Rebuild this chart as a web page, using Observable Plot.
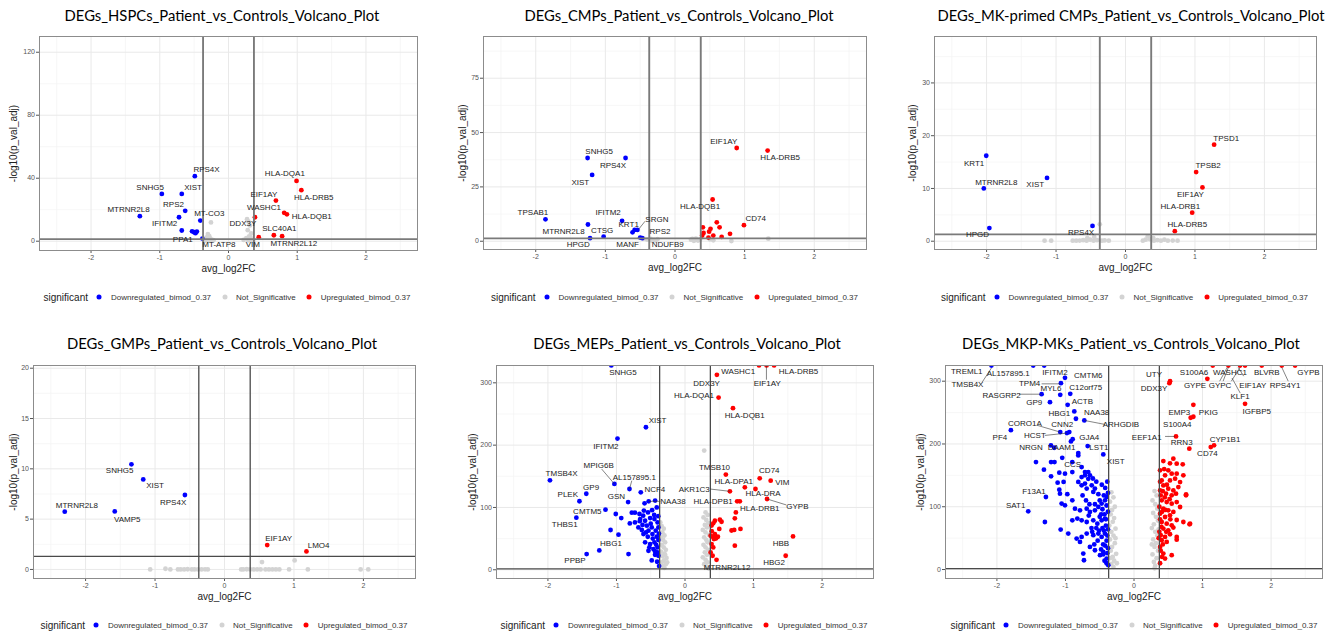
<!DOCTYPE html>
<html><head><meta charset="utf-8">
<script src="https://cdn.jsdelivr.net/npm/d3@7"></script>
<script src="https://cdn.jsdelivr.net/npm/@observablehq/plot@0.6"></script>
<style>
body{margin:0;background:#fff;width:1343px;height:637px;position:relative;overflow:hidden;font-family:"Liberation Sans",Arial,sans-serif}
.title{position:absolute;font-family:Lato,"Open Sans",sans-serif;font-size:14.8px;color:#000;white-space:nowrap;transform:translate(-50%,-50%)}
.panel{position:absolute}
.legend{position:absolute;display:flex;align-items:center;white-space:nowrap;transform:translate(-50%,-50%);color:#333;font-size:8px;font-family:"Liberation Sans",Arial,sans-serif}
.legend .lt{font-size:10px;color:#222}
.legend .dot{display:inline-block;width:5px;height:5px;border-radius:50%;margin:0 9px 0 11px}
.legend .dot.first{margin-left:9px}
</style></head><body>
<script>
// ---------- shared categories / thresholds ----------
const categories = ["Downregulated_bimod_0.37","Not_Significative","Upregulated_bimod_0.37"];
const categoryColors = ["#0000ff","#d3d3d3","#ff0000"];
const legendTitle = "significant";
const xAxisTitle = "avg_log2FC";
const yAxisTitle = "-log10(p_val_adj)";
const fcThresholds = [-0.37, 0.37];
const padjThreshold = [1.3];
const xTicks = [-2,-1,0,1,2];
const xMinor = [-2.5,-1.5,-0.5,0.5,1.5,2.5];

// ---------- Panel 1: HSPCs ----------
const hspcTitle = "DEGs_HSPCs_Patient_vs_Controls_Volcano_Plot";
const hspcDown = [[-0.49,41.3],[-0.97,30],[-0.68,30],[-0.63,19.3],[-1.29,15.9],[-0.72,15.2],[-0.41,13.1],[-0.68,6.8],[-0.53,6.3],[-0.50,5.7],[-0.46,6.1],[-0.48,5.1],[-0.38,1.7]];
const hspcUp = [[0.99,38.3],[1.06,32.4],[0.69,25.8],[0.385,15.2],[0.81,18],[0.85,17.1],[0.66,3.8],[0.78,3.2],[0.44,2.5]];
const hspcNS = [[-0.255,11.9],[-0.30,4.5],[-0.28,3.2],[-0.32,2.4],[-0.26,1.5],[-0.34,0.8],[-0.30,0.4],[-0.22,0.6],[-0.27,0.2],[-0.35,0.1],[0.27,14],[0.29,12.5],[0.31,10],[0.28,7],[0.33,5],[0.30,3],[0.26,2],[0.34,1],[0.29,0.5],[0.36,0.2],[0.22,0.8],[0.32,2.6]];
const hspcLabels = [["RPS4X",-0.32,45.6],["SNHG5",-1.14,34.3],["XIST",-0.515,34.3],["RPS2",-0.80,23.3],["MTRNR2L8",-1.455,19.9],["IFITM2",-0.93,11],["MT-CO3",-0.28,17.4],["PPA1",-0.665,1.06],["MT-ATP8",-0.14,-2.3],["DDX3Y",0.21,11],["VIM",0.355,-2.3],["HLA-DQA1",0.82,42.8],["HLA-DRB5",1.24,28],["EIF1AY",0.515,30],["WASHC1",0.515,21.6],["HLA-DQB1",1.21,15.7],["SLC40A1",0.74,7.8],["MTRNR2L12",0.95,-1.3]];
const hspcLinks = [];
const hspcYTicks = [0,40,80,120];
const hspcYMinor = [20,60,100];

// ---------- Panel 2: CMPs ----------
const cmpTitle = "DEGs_CMPs_Patient_vs_Controls_Volcano_Plot";
const cmpDown = [[-1.255,38.3],[-0.71,38.3],[-1.19,30.5],[-1.86,10.1],[-0.76,9.4],[-1.25,7.7],[-0.61,4.1],[-0.58,5.2],[-0.54,5.2],[-1.025,2.1],[-1.22,1.4],[-0.50,1.7],[-0.47,1.4]];
const cmpUp = [[0.886,42.9],[1.33,41.7],[0.54,19.2],[0.99,7.4],[0.60,8.7],[0.64,6.4],[0.40,6.4],[0.51,5.7],[0.41,3.8],[0.49,4.4],[0.39,2.6],[0.55,2.6],[0.67,2],[0.79,3.4],[0.48,1.7]];
const cmpNS = [[-0.45,1.2],[-0.40,0.8],[-0.35,1.1],[-0.30,0.6],[-0.25,1.0],[-0.33,0.2],[-0.28,0.3],[0.25,1.1],[0.28,0.5],[0.30,1.2],[0.33,0.3],[0.36,0.8],[0.27,0.2],[0.23,0.7],[0.50,0.9],[0.55,0.4],[0.81,0.1],[1.34,1.2]];
const cmpLabels = [["SNHG5",-1.09,41.3],["RPS4X",-0.89,35.1],["XIST",-1.36,27.1],["TPSAB1",-2.04,13.2],["IFITM2",-0.96,13.2],["SRGN",-0.26,10],["KRT1",-0.665,7.8],["MTRNR2L8",-1.60,4.6],["CTSG",-1.045,5.1],["RPS2",-0.215,4.4],["HPGD",-1.39,-1.7],["MANF",-0.68,-1.7],["NDUFB9",-0.105,-1.7],["EIF1AY",0.70,45.9],["HLA-DRB5",1.51,38.5],["HLA-DQB1",0.36,16],["CD74",1.16,10.3]];
const cmpLinks = [[-0.52,5.6,-0.43,9.2]];
const cmpYTicks = [0,25,50,75];
const cmpYMinor = [12.5,37.5,62.5,87.5];

// ---------- Panel 3: MK-primed CMPs ----------
const mkcmpTitle = "DEGs_MK-primed CMPs_Patient_vs_Controls_Volcano_Plot";
const mkcmpDown = [[-2.005,16.2],[-2.04,10],[-1.13,12],[-1.96,2.5],[-0.475,2.9]];
const mkcmpUp = [[1.276,18.3],[1.017,13.1],[1.108,10.2],[0.96,5.4],[0.71,1.9]];
const mkcmpNS = [[-0.37,3.2],[-1.165,0.1],[-1.07,0.1],[-0.76,0.1],[-0.71,0.1],[-0.66,0.12],[-0.61,0.2],[-0.56,0.1],[-0.51,0.3],[-0.46,0.1],[-0.41,0.2],[-0.34,0.1],[-0.30,0.15],[-0.24,0.1],[-0.55,0.6],[-0.45,0.8],[0.25,0.1],[0.29,0.3],[0.32,0.9],[0.35,0.4],[0.41,0.1],[0.46,0.2],[0.51,0.1],[0.56,0.3],[0.61,0.1],[0.68,0.12],[0.75,0.1],[0.40,0.6]];
const mkcmpLabels = [["KRT1",-2.18,14.8],["MTRNR2L8",-1.86,11.2],["XIST",-1.30,10.7],["HPGD",-2.13,1.2],["RPS4X",-0.64,1.6],["TPSD1",1.45,19.5],["TPSB2",1.19,14.4],["EIF1AY",0.935,8.8],["HLA-DRB1",0.79,6.6],["HLA-DRB5",0.89,3.2]];
const mkcmpLinks = [];
const mkcmpYTicks = [0,10,20,30];
const mkcmpYMinor = [5,15,25,35];

// ---------- Panel 4: GMPs ----------
const gmpTitle = "DEGs_GMPs_Patient_vs_Controls_Volcano_Plot";
const gmpDown = [[-1.34,10.45],[-1.17,8.95],[-0.57,7.4],[-2.30,5.74],[-1.58,5.77]];
const gmpUp = [[0.615,2.42],[1.18,1.79]];
const gmpNS = [[0.54,0.73],[1.01,0.9],[-1.07,0],[-0.85,0.07],[-0.78,0],[-0.67,0],[-0.63,0],[-0.58,0],[-0.53,0.02],[-0.47,0],[-0.43,0],[-0.38,0],[-0.33,0],[-0.28,0.01],[-0.24,0],[0.24,0],[0.27,0],[0.32,0.02],[0.37,0],[0.42,0],[0.47,0],[0.52,0],[0.59,0],[0.64,0],[0.69,0],[0.74,0],[0.79,0],[0.93,0],[1.2,0],[1.96,0],[2.07,0]];
const gmpLabels = [["SNHG5",-1.51,9.8],["XIST",-1.0,8.3],["RPS4X",-0.74,6.7],["MTRNR2L8",-2.125,6.4],["VAMP5",-1.40,5.0],["EIF1AY",0.78,3.05],["LMO4",1.355,2.35]];
const gmpLinks = [];
const gmpYTicks = [0,5,10,15,20];
const gmpYMinor = [2.5,7.5,12.5,17.5];

// ---------- Panel 5: MEPs ----------
const mepTitle = "DEGs_MEPs_Patient_vs_Controls_Volcano_Plot";
const mepDown = [[-1.075,328],[-0.57,228.7],[-0.985,210.5],[-1.97,143.6],[-1.03,137.7],[-0.81,129.6],[-1.44,122],[-1.54,110],[-0.645,124.3],[-0.83,108.7],[-0.53,109.8],[-1.16,96.4],[-1.585,83.6],[-1.25,31],[-1.435,25.2],
 [-0.59,106.6],[-0.436,111],[-1.01,89.5],[-0.93,83],[-0.776,91.6],[-0.73,91.6],[-0.664,89.5],[-0.61,86.8],[-0.54,92],[-0.48,95.7],[-0.412,100],[-0.805,74.4],[-0.73,76],[-0.654,81.3],[-0.582,78.7],[-0.509,83],[-0.446,81.3],[-0.40,76],
 [-1.086,63.8],[-0.97,56.3],[-0.68,68],[-0.63,63.8],[-0.557,70.7],[-0.533,62.7],[-0.485,68],[-0.427,62.7],[-0.388,68],[-0.606,57.3],[-0.543,53],[-0.475,57.3],[-0.412,53],[-0.388,47.6],[-0.582,44],[-0.509,41.3],[-0.446,44],
 [-0.533,30.5],[-0.461,33.2],[-0.40,35.9],[-0.437,24.1],[-0.388,22.5],[-0.485,15],[-0.407,12.9],[-0.378,6],[-0.824,25.2],[-0.62,72],[-0.50,74],[-0.45,88],[-0.39,86],[-0.57,60],[-0.47,50],[-0.42,40],[-0.52,36],[-0.40,28],[-0.66,78],[-0.60,95],[-0.38,58],[-0.44,30]];
const mepUp = [[0.465,312.9],[0.49,276.4],[0.70,259.3],[1.08,328],[1.19,328],[1.30,328],[0.596,152.7],[1.09,146.8],[1.25,143],[0.873,132.3],[1.028,129.6],[0.655,125.9],[1.197,113.6],[0.761,109.8],[0.80,109.8],[0.742,92.1],[0.727,82.5],
 [0.509,80.4],[0.533,77.1],[0.436,78.7],[0.412,74.5],[0.388,71],[0.50,65.6],[0.809,65.6],[0.679,63],[0.718,64],[0.436,57.3],[0.46,51.9],[0.422,49.3],[0.403,53],[0.374,54.6],[1.576,53.5],[0.727,38.6],[0.388,41.3],[0.412,35.9],[0.374,27.8],[0.403,22.5],[0.46,16],[1.469,22.5],[0.45,50],[0.48,53],[0.39,62]];
const mepNS = [[-0.36,76],[-0.34,70],[-0.31,66],[-0.33,60],[-0.30,55],[-0.35,52],[-0.32,48],[-0.29,44],[-0.34,40],[-0.31,36],[-0.28,32],[-0.35,29],[-0.30,26],[-0.33,22],[-0.27,19],[-0.31,15],[-0.34,12],[-0.28,9],[-0.32,6],[-0.30,3],[-0.26,12],[-0.29,24],
 [0.28,191.3],[0.30,92],[0.33,88],[0.27,84],[0.31,80],[0.34,75],[0.29,72],[0.32,68],[0.26,64],[0.30,60],[0.35,56],[0.28,52],[0.31,48],[0.33,44],[0.27,40],[0.30,36],[0.34,32],[0.29,28],[0.32,24],[0.26,20],[0.30,16],[0.33,12],[0.28,9],[0.31,5],[0.35,2]];
const mepLabels = [["SNHG5",-0.905,316.6],["XIST",-0.40,239.5],["IFITM2",-1.155,198.7],["MPIG6B",-1.26,167.7],["TMSB4X",-1.80,154.3],["AL157895.1",-0.74,148.4],["GP9",-1.37,132.3],["PLEK",-1.71,121],["GSN",-1.0,118.4],["NCF4",-0.44,129.6],["NAA38",-0.175,109.8],["CMTM5",-1.425,93.7],["THBS1",-1.755,72.3],["HBG1",-1.08,42.3],["PPBP",-1.605,15],
 ["WASHC1",0.775,318.2],["HLA-DRB5",1.655,318.2],["DDX3Y",0.315,298.4],["EIF1AY",1.20,298.4],["HLA-DQA1",0.13,279.1],["HLA-DQB1",0.87,248],["TMSB10",0.43,163.9],["CD74",1.23,160.2],["HLA-DPA1",0.71,141.4],["VIM",1.42,140.9],["AKR1C3",0.135,129.6],["HLA-DRA",1.14,122.1],["HLA-DPB1",0.41,109.8],["GYPB",1.64,102.3],["HLA-DRB1",1.09,98.6],["HBB",1.40,42.3],["HBG2",1.30,11.2],["MTRNR2L12",0.615,4.3]];
const mepLinks = [[-1.217,161.8,-1.03,137.7],[-0.776,143,-0.81,129.6],[-0.53,109.8,-0.36,109.8],[1.188,328,1.188,305],[0.364,129.6,0.655,125.9],[1.479,104,1.197,113.6]];
const mepYTicks = [0,100,200,300];
const mepYMinor = [50,150,250];

// ---------- Panel 6: MKP-MKs ----------
const mkpTitle = "DEGs_MKP-MKs_Patient_vs_Controls_Volcano_Plot";
const mkpDown = [[-2.08,325],[-1.47,325],[-1.31,325],[-1.007,305.4],[-1.066,296.8],[-1.348,279.3],[-1.076,278.3],[-0.93,279.8],[-1.226,266.6],[-0.968,262.4],[-0.871,251.8],[-0.847,240.2],[-0.725,237.5],[-1.796,222],[-1.076,218.9],[-0.978,217.3],[-0.944,218.9],[-0.895,207.7],[-1.212,197.7],[-1.163,194],[-0.676,196.6],[-0.92,204],
 [-0.813,185.5],[-0.813,181.8],[-0.448,183.4],[-1.047,178],[-1.43,171.2],[-1.21,171.2],[-1.16,171.2],[-0.90,171.2],[-0.764,163.2],[-0.715,155.3],[-0.667,155.3],[-0.715,150],[-0.764,147.3],[-0.643,150],[-0.667,144.4],[-1.314,159],[-1.09,154.3],[-1.007,152.7],[-0.90,155.3],[-1.21,148.4],[-1.114,138.4],[-1.027,139.5],
 [-0.813,139.5],[-0.764,134.2],[-0.715,136.9],[-0.69,128.9],[-0.617,134.2],[-0.594,123.6],[-0.57,128.9],[-1.09,127.2],[-1.08,120.9],[-0.973,120],[-0.90,110.2],[-1.285,115.5],[-1.056,105],[-1.007,102.3],[-0.861,97],[-0.788,94.3],[-0.69,97],[-0.643,91.7],[-0.57,94.3],[-0.52,99.7],[-0.472,105],[-0.423,110.2],[-0.399,115.5],
 [-1.543,92.7],[-0.90,78.4],[-0.827,81.1],[-0.764,78.4],[-0.69,75.7],[-0.594,78.4],[-0.535,73.1],[-0.472,78.4],[-0.423,81.1],[-1.3,75.7],[-1.07,63.6],[-0.959,57.3],[-0.837,49.3],[-0.764,52],[-0.788,44],[-0.69,57.3],[-0.594,54.7],[-0.52,57.3],[-0.472,52],[-0.423,57.3],[-0.74,25.4],[-0.73,14.8],
 [-0.643,36],[-0.57,30.7],[-0.496,22.8],[-0.448,28],[-0.399,17.5],[-0.375,6.9],[-0.39,140],[-0.42,130],[-0.38,122],[-0.44,118],[-0.40,102],[-0.38,92],[-0.43,88],[-0.41,70],[-0.38,64],[-0.44,62],[-0.40,46],[-0.42,38],[-0.38,34],[-0.45,40],[-0.39,26],[-0.43,14],[-0.40,10],[-0.46,66],[-0.48,88],[-0.50,110],[-0.52,120],[-0.47,135],[-0.55,140],[-0.60,145],[-0.50,84],[-0.55,66],[-0.58,40],[-0.62,66],[-0.65,104],[-0.70,110],[-0.75,118],[-0.66,86],[-0.61,60],[-0.53,46],[-0.48,32],[-0.45,24],[-0.51,62],[-0.57,104],[-0.46,96],[-0.41,80],[-0.39,54]];
const mkpUp = [[1.149,325],[1.377,325],[1.547,325],[1.864,325],[2.156,325],[2.35,325],[1.62,325],[0.526,300],[0.516,296.8],[1.07,303.8],[0.866,262.4],[0.827,241.8],[0.866,243.4],[1.62,264],[0.613,212],[0.807,192.5],[1.12,195.1],[1.168,197.8],
 [0.428,172.8],[0.574,176.5],[0.623,168.6],[0.711,167.6],[0.525,169.1],[0.38,158],[0.50,158],[0.55,152.7],[0.623,152.7],[0.72,150],[0.453,150],[0.404,142],[0.525,142],[0.60,144.7],[0.672,139.3],[0.428,134],[0.38,126],[0.50,128.8],[0.574,126],[0.647,131.4],[0.467,120.9],[0.55,118.2],[0.613,120.9],[0.759,118.2],
 [0.404,110.2],[0.477,107.5],[0.55,104.9],[0.623,107.5],[0.672,99.6],[0.428,97],[0.50,94.3],[0.574,91.7],[0.38,89],[0.453,83.7],[0.525,86.3],[0.404,75.7],[0.477,73.1],[0.55,70.4],[0.428,65.2],[0.50,62.5],[0.574,66.8],[0.72,75.7],[0.818,73.1],[0.623,78.9],
 [0.39,54.6],[0.453,52],[0.525,56.2],[0.623,52],[0.404,46.6],[0.477,44],[0.38,36],[0.428,25.4],[0.55,22.8],[0.453,17.5],[0.623,47.6],[0.38,140],[0.39,118],[0.37,100],[0.41,92],[0.38,80],[0.40,68],[0.37,60],[0.42,40],[0.39,30],[0.38,10],[0.42,125],[0.44,160],[0.36,50],[0.41,20],[0.45,115],[0.46,95],[0.48,135],[0.52,112],[0.47,60],[0.53,80],[0.76,119.8],[0.81,72]];
const mkpNS = [[-0.33,123],[-0.30,115],[-0.35,108],[-0.28,100],[-0.32,95],[-0.34,88],[-0.29,82],[-0.31,76],[-0.36,70],[-0.27,65],[-0.33,60],[-0.30,54],[-0.35,48],[-0.28,42],[-0.32,36],[-0.34,30],[-0.26,25],[-0.31,20],[-0.29,14],[-0.33,9],[-0.30,4],[-0.27,50],[-0.35,18],[-0.25,10],
 [0.30,125],[0.33,118],[0.27,110],[0.31,104],[0.34,97],[0.28,90],[0.32,84],[0.35,78],[0.29,72],[0.26,66],[0.31,60],[0.34,54],[0.28,48],[0.32,42],[0.30,36],[0.35,30],[0.27,24],[0.33,18],[0.29,12],[0.31,6],[0.26,40],[0.36,64],[0.30,2]];
const mkpLabels = [["TREML1",-2.44,315.4],["TMSB4X",-2.43,294.2],["AL157895.1",-1.835,311.8],["IFITM2",-1.153,314.3],["CMTM6",-0.667,309],["TPM4",-1.523,295.8],["MYL6",-1.212,288.9],["C12orf75",-0.705,289.4],["RASGRP2",-1.932,277.2],["GP9",-1.455,265.6],["ACTB",-0.754,267.7],["HBG1",-1.09,249.1],["NAA38",-0.545,249.6],["ARHGDIB",-0.19,231.1],["CORO1A",-1.591,232.7],["CNN2",-1.047,230.6],["PF4",-1.956,210],["HCST",-1.445,213.6],["GJA4",-0.652,211],["NRGN",-1.504,194],["DAAM1",-1.056,195],["LST1",-0.512,194],["XIST",-0.267,171.8],["CCS",-0.895,167.5],["F13A1",-1.46,125],["SAT1",-1.727,101.8],
 ["UTY",0.292,310.6],["S100A6",0.876,313.3],["WASHC1",1.40,313.3],["BLVRB",1.937,313.3],["GYPB",2.545,313.3],["DDX3Y",0.292,287.9],["GYPE",0.89,293.2],["GYPC",1.255,293.2],["EIF1AY",1.733,293.2],["RPS4Y1",2.204,293.2],["KLF1",1.547,275.7],["IGFBP5",1.79,252.3],["EMP3",0.661,250.7],["PKIG",1.085,250.7],["S100A4",0.632,231.1],["EEF1A1",0.185,210.9],["RRN3",0.696,203],["CYP1B1",1.328,207.3],["CD74",1.07,184.5]];
const mkpLinks = [[-2.215,298.4,-2.08,321],[-1.348,295.8,-1.076,295.8],[-1.679,279.3,-1.348,279.3],[-1.406,229.5,-1.076,218.9],[-1.30,213.6,-0.978,217.3],[-0.725,237.5,-0.423,231.1],
 [1.30,300,1.377,322],[1.25,300,1.36,322],[1.52,322,1.60,308],[1.42,300,1.547,322],[1.55,281,1.43,305],[2.156,322,2.25,300],[0.453,212,0.60,212]];
const mkpYTicks = [0,100,200,300];
const mkpYMinor = [50,150,250];

// ---------- layout (page pixels) ----------
const panels = [
 {title:hspcTitle, down:hspcDown, up:hspcUp, ns:hspcNS, labels:hspcLabels, links:hspcLinks, yTicks:hspcYTicks, yMinor:hspcYMinor, yDomain:[-5.9,130], box:[39,417,36,250], ylabDx:-26, titlePos:[222,15], legendPos:[227,297], row:0},
 {title:cmpTitle, down:cmpDown, up:cmpUp, ns:cmpNS, labels:cmpLabels, links:cmpLinks, yTicks:cmpYTicks, yMinor:cmpYMinor, yDomain:[-3.8,94.2], box:[483,866,36,249], ylabDx:-20.5, titlePos:[679,15], legendPos:[674.5,297], row:0},
 {title:mkcmpTitle, down:mkcmpDown, up:mkcmpUp, ns:mkcmpNS, labels:mkcmpLabels, links:mkcmpLinks, yTicks:mkcmpYTicks, yMinor:mkcmpYMinor, yDomain:[-1.57,38.8], box:[934,1316,36,249], ylabDx:-22, titlePos:[1131,15], legendPos:[1124.5,297], row:0},
 {title:gmpTitle, down:gmpDown, up:gmpUp, ns:gmpNS, labels:gmpLabels, links:gmpLinks, yTicks:gmpYTicks, yMinor:gmpYMinor, yDomain:[-0.9,20.27], box:[33,415,365,578], ylabDx:-20, titlePos:[222,343], legendPos:[224,625], row:1},
 {title:mepTitle, down:mepDown, up:mepUp, ns:mepNS, labels:mepLabels, links:mepLinks, yTicks:mepYTicks, yMinor:mepYMinor, yDomain:[-14,327.8], box:[496,873,365,578], ylabDx:-24, titlePos:[687,343], legendPos:[684,625], row:1},
 {title:mkpTitle, down:mkpDown, up:mkpUp, ns:mkpNS, labels:mkpLabels, links:mkpLinks, yTicks:mkpYTicks, yMinor:mkpYMinor, yDomain:[-14.3,325], box:[945,1322,365,578], ylabDx:-25, titlePos:[1131,343], legendPos:[1134,625], row:1}
];

const fmt = d => (d < 0 ? "-" + Math.abs(d) : String(d));

for (const p of panels) {
  const rows = [
    ...p.ns.map(d => ({x:d[0], y:d[1], s:categories[1]})),
    ...p.down.map(d => ({x:d[0], y:d[1], s:categories[0]})),
    ...p.up.map(d => ({x:d[0], y:d[1], s:categories[2]}))
  ];
  const mL = 40, mR = 10, mT = 10, mB = 30;
  const [L, R, T, B] = p.box;
  const lineColor = p.row === 0 ? "#7a7a7a" : "#4a4a4a";
  const lineWidth = p.row === 0 ? 1.9 : 1.3;
  const chart = Plot.plot({
    width: R - L + mL + mR, height: B - T + mT + mB,
    marginLeft: mL, marginRight: mR, marginTop: mT, marginBottom: mB,
    x: {domain:[-2.75,2.75], ticks:xTicks, tickSize:3, tickPadding:1.5, tickFormat:fmt, label:null},
    y: {domain:p.yDomain, ticks:p.yTicks, tickSize:3, tickPadding:1.5, tickFormat:fmt, label:null},
    color: {domain:categories, range:categoryColors},
    style: {fontSize:"7px", fontFamily:"'Liberation Sans', Arial, sans-serif", color:"#555", background:"transparent", overflow:"visible"},
    marks: [
      Plot.ruleX(xMinor, {stroke:"#f4f4f4", strokeWidth:0.7}),
      Plot.ruleY(p.yMinor, {stroke:"#f4f4f4", strokeWidth:0.7}),
      Plot.ruleX(xTicks, {stroke:"#e9e9e9", strokeWidth:1}),
      Plot.ruleY(p.yTicks, {stroke:"#e9e9e9", strokeWidth:1}),
      Plot.dot(rows, {x:"x", y:"y", fill:"s", r:2.4, clip:true}),
      Plot.ruleX(fcThresholds, {stroke:lineColor, strokeWidth:lineWidth}),
      Plot.ruleY(padjThreshold, {stroke:lineColor, strokeWidth:lineWidth}),
      Plot.link(p.links, {x1:d=>d[0], y1:d=>d[1], x2:d=>d[2], y2:d=>d[3], stroke:"#333", strokeWidth:0.6}),
      Plot.text(p.labels, {x:d=>d[1], y:d=>d[2], text:d=>d[0], fontSize:8, fill:"#222"}),
      Plot.frame({stroke:"#8c8c8c"}),
      Plot.text([xAxisTitle], {text:d=>d, frameAnchor:"bottom", lineAnchor:"middle", dy:18, fontSize:10, fill:"#222"}),
      Plot.text([yAxisTitle], {text:d=>d, frameAnchor:"left", textAnchor:"middle", lineAnchor:"middle", rotate:-90, dx:p.ylabDx, fontSize:10, fill:"#222"})
    ]
  });
  const wrap = document.createElement("div");
  wrap.className = "panel";
  wrap.style.left = (L - mL) + "px";
  wrap.style.top = (T - mT) + "px";
  wrap.appendChild(chart);
  document.body.appendChild(wrap);

  const t = document.createElement("div");
  t.className = "title";
  t.textContent = p.title;
  t.style.left = p.titlePos[0] + "px";
  t.style.top = p.titlePos[1] + "px";
  document.body.appendChild(t);

  const lg = document.createElement("div");
  lg.className = "legend";
  lg.style.left = p.legendPos[0] + "px";
  lg.style.top = p.legendPos[1] + "px";
  const lt = document.createElement("span");
  lt.className = "lt"; lt.textContent = legendTitle;
  lg.appendChild(lt);
  categories.forEach((c, i) => {
    const dot = document.createElement("span");
    dot.className = "dot" + (i === 0 ? " first" : "");
    dot.style.background = categoryColors[i];
    lg.appendChild(dot);
    const s = document.createElement("span");
    s.textContent = c;
    lg.appendChild(s);
  });
  document.body.appendChild(lg);
}
</script>
</body></html>
